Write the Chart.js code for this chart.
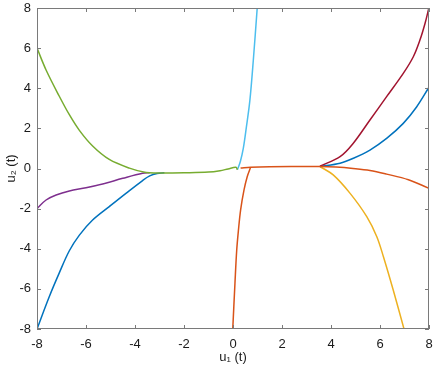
<!DOCTYPE html>
<html>
<head>
<meta charset="utf-8">
<script src="https://cdn.jsdelivr.net/npm/chart.js@4.4.1/dist/chart.umd.min.js"></script>
<style>
  html, body { margin: 0; padding: 0; background: #fff; }
  #wrap { width: 434px; height: 372px; }
</style>
</head>
<body>
<div id="wrap"><canvas id="phase" width="434" height="372"></canvas></div>
<script>
// phase portrait u1(t) vs u2(t), MATLAB default colour order

const axisTicks = [-8, -6, -4, -2, 0, 2, 4, 6, 8];

// left fan (merging near u2 = -0.2)
const greenX  = [-8, -7.63, -7.09, -6.68, -6.27, -5.73, -5.05, -4.23, -3.55, -3, -2, -1, -0.53, -0.2, 0.12, 0.18];
const greenY  = [6.0, 4.91, 3.6, 2.68, 1.9, 1.12, 0.45, 0.02, -0.2, -0.22, -0.21, -0.18, -0.11, -0.02, 0.06, -0.06];
const purpleX = [-8, -7.63, -7.22, -6.68, -6.0, -5.32, -4.5, -3.69, -3.4];
const purpleY = [-2.0, -1.57, -1.32, -1.12, -0.96, -0.77, -0.49, -0.24, -0.21];
const blueLX  = [-8, -7.5, -7.09, -6.68, -6.27, -5.73, -5.05, -4.37, -3.69, -3.4, -3.1, -2.8];
const blueLY  = [-8, -6.39, -5.2, -4.1, -3.32, -2.57, -1.9, -1.24, -0.6, -0.37, -0.25, -0.21];

// near the origin
const cyanX   = [0.18, 0.3, 0.42, 0.55, 0.69, 0.83, 0.99];
const cyanY   = [-0.06, 0.35, 1.0, 2.1, 3.41, 5.41, 8.03];
const orangeUpX = [-0.01, 0.08, 0.15, 0.22, 0.31, 0.45, 0.58, 0.72];
const orangeUpY = [-8, -5.72, -4.1, -3.1, -2.07, -1.07, -0.41, 0.06];

// right fan (splitting near u1 = 3.5)
const orangeX = [0.31, 0.72, 1.5, 2.5, 3.55, 4.2, 4.9, 5.59, 6.27, 7.16, 8.0];
const orangeY = [0.02, 0.06, 0.09, 0.1, 0.1, 0.07, 0.0, -0.1, -0.28, -0.56, -0.99];
const redX    = [3.55, 4.37, 4.91, 5.59, 6.27, 6.95, 7.36, 7.63, 7.84, 8.0];
const redY    = [0.12, 0.59, 1.26, 2.42, 3.58, 4.74, 5.57, 6.4, 7.24, 8.03];
const blueRX  = [3.55, 4.37, 4.91, 5.59, 6.27, 6.95, 7.5, 8.0];
const blueRY  = [0.1, 0.26, 0.51, 0.92, 1.5, 2.25, 3.08, 4.05];
const yellowX = [3.55, 4.09, 4.78, 5.46, 5.87, 6.14, 6.54, 6.98];
const yellowY = [0.1, -0.32, -1.24, -2.4, -3.4, -4.4, -6.06, -8.0];

const pts = (xs, ys) => xs.map((x, i) => ({ x: x, y: ys[i] }));

const line = (xs, ys, color) => ({
    data: pts(xs, ys),
    borderColor: color,
    borderWidth: 1.5,
    showLine: true,
    pointRadius: 0,
    tension: 0.35,
});

// box around the axes + inward tick marks on all four sides
const boxTicks = {
    id: 'boxTicks',
    afterDatasetsDraw(chart) {
        const { ctx, chartArea: a, scales: { x, y } } = chart;
        ctx.save();
        ctx.strokeStyle = '#7a7a7a';
        ctx.lineWidth = 1;
        ctx.strokeRect(a.left + 0.5, a.top + 0.5, a.width - 1, a.height - 1);
        ctx.beginPath();
        axisTicks.forEach(t => {
            const px = Math.round(x.getPixelForValue(t)) + 0.5;
            ctx.moveTo(px, a.bottom); ctx.lineTo(px, a.bottom - 4);
            ctx.moveTo(px, a.top);    ctx.lineTo(px, a.top + 4);
            const py = Math.round(y.getPixelForValue(t)) + 0.5;
            ctx.moveTo(a.left, py);  ctx.lineTo(a.left + 4, py);
            ctx.moveTo(a.right, py); ctx.lineTo(a.right - 4, py);
        });
        ctx.stroke();
        ctx.restore();
    }
};

const tickFont = { family: 'Liberation Sans, Arial, sans-serif', size: 13 };

new Chart(document.getElementById('phase'), {
    type: 'scatter',
    data: {
        datasets: [
            line(greenX, greenY, '#77AC30'),
            line(purpleX, purpleY, '#7E2F8E'),
            line(blueLX, blueLY, '#0072BD'),
            line(orangeX, orangeY, '#D95319'),
            line(orangeUpX, orangeUpY, '#D95319'),
            line(redX, redY, '#A2142F'),
            line(blueRX, blueRY, '#0072BD'),
            line(yellowX, yellowY, '#EDB120'),
            line(cyanX, cyanY, '#4DBEEE'),
        ]
    },
    options: {
        responsive: false,
        animation: false,
        layout: { padding: { top: 8, right: 5, left: 0, bottom: 0 } },
        plugins: { legend: { display: false }, tooltip: { enabled: false } },
        scales: {
            x: {
                type: 'linear', min: -8, max: 8,
                afterBuildTicks: s => { s.ticks = axisTicks.map(v => ({ value: v })); },
                afterFit: s => { s.height = 43; s.paddingLeft = 0; s.paddingRight = 0; },
                grid: { display: false, drawTicks: false },
                border: { display: false },
                ticks: { font: tickFont, color: '#1a1a1a', padding: 8, maxRotation: 0 },
                title: { display: true, text: 'u₁ (t)', font: tickFont, color: '#1a1a1a', padding: { top: 0, bottom: 7 } },
            },
            y: {
                type: 'linear', min: -8, max: 8,
                afterBuildTicks: s => { s.ticks = axisTicks.map(v => ({ value: v })); },
                afterFit: s => { s.width = 37; s.paddingTop = 0; s.paddingBottom = 0; },
                grid: { display: false, drawTicks: false },
                border: { display: false },
                ticks: { font: tickFont, color: '#1a1a1a', padding: 6 },
                title: { display: true, text: 'u₂ (t)', font: tickFont, color: '#1a1a1a', padding: { top: 4, bottom: 0 } },
            },
        },
    },
    plugins: [boxTicks],
});
</script>
</body>
</html>
